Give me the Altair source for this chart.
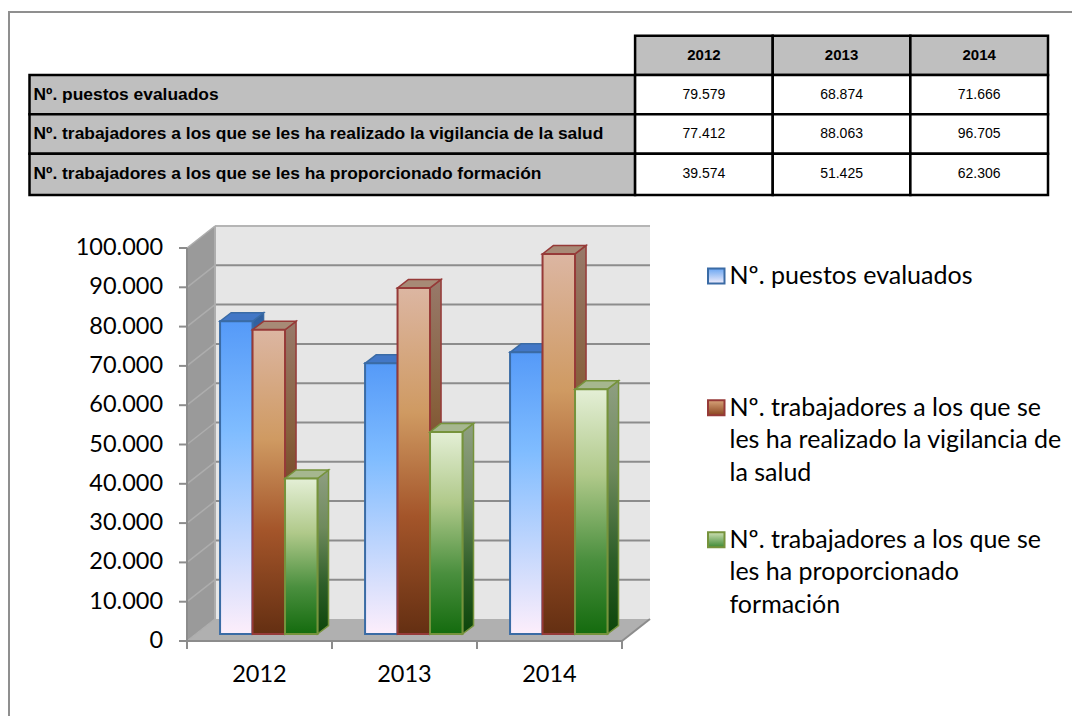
import altair as alt
import pandas as pd

years = ["2012", "2013", "2014"]
series = [
    "Nº. puestos evaluados",
    "Nº. trabajadores a los que se les ha realizado la vigilancia de la salud",
    "Nº. trabajadores a los que se les ha proporcionado formación",
]
puestos = [79579, 68874, 71666]
vigilancia = [77412, 88063, 96705]
formacion = [39574, 51425, 62306]
values = [puestos, vigilancia, formacion]
cell_text = [["79.579", "68.874", "71.666"], ["77.412", "88.063", "96.705"], ["39.574", "51.425", "62.306"]]
ticks = list(range(0, 100001, 10000))
tick_labels = ["0", "10.000", "20.000", "30.000", "40.000", "50.000", "60.000", "70.000", "80.000", "90.000", "100.000"]

legend_lines = [
    ("Nº. puestos evaluados", 0.0),
    ("Nº. trabajadores a los que se", 4.03),
    ("les ha realizado la vigilancia de", 5.03),
    ("la salud", 6.03),
    ("Nº. trabajadores a los que se", 8.07),
    ("les ha proporcionado", 9.07),
    ("formación", 10.07),
]
legend_marks = [0.0, 4.03, 8.07]

W, H = 1064, 708


def grad(*stops):
    return {
        "gradient": "linear", "x1": 0, "y1": 0, "x2": 0, "y2": 1,
        "stops": [{"offset": o, "color": c} for o, c in stops],
    }


front = [
    grad((0, "#559af8"), (0.35, "#7fbcff"), (1, "#fdeefb")),
    grad((0, "#dcb6a2"), (0.36, "#cf9a62"), (0.66, "#a4552a"), (1, "#642f12")),
    grad((0, "#e4efd6"), (0.35, "#b0c98a"), (0.7, "#4a8f3e"), (1, "#146b0e")),
]
side = [
    grad((0, "#2f5f9e"), (1, "#8a9dbd")),
    grad((0, "#98796a"), (0.36, "#87603c"), (0.66, "#6d3a1c"), (1, "#43200c")),
    grad((0, "#8f9f82"), (0.35, "#6f8a5c"), (0.7, "#2e5e28"), (1, "#0c450a")),
]
top_fill = ["#4277c6", "#a78a76", "#a6b78f"]
edge = ["#3a6ba5", "#963a38", "#76933c"]
legend_fill = [
    grad((0, "#6aa6f2"), (1, "#f2eefb")),
    grad((0, "#d8a47a"), (1, "#8a4520")),
    grad((0, "#cfe0b4"), (1, "#3f8a35")),
]

# ---- 3D chart: units are category widths on x and counts on y
x_sc = alt.Scale(domain=[0, 3], range=[179, 614], nice=False, zero=False)
y_sc = alt.Scale(domain=[0, 100000], range=[633, 240], nice=False, zero=False)
wall_dx, wall_dy = 0.193, 5600
base_v = 1780
bar_w, bar_start = 0.224, 0.228
bar_dx, bar_dy = 0.076, 2160
tick_dx, tick_dy = 0.055, 2035


def X(f="x"):
    return alt.X(f"{f}:Q", scale=x_sc, axis=None, title=None)


def Y(f="y"):
    return alt.Y(f"{f}:Q", scale=y_sc, axis=None, title=None)


def vertical_area(df, **mark):
    return alt.Chart(df).mark_area(orient="vertical", **mark).encode(
        x=X(), y=Y(), y2=alt.Y2("y2:Q"), detail="id:N")


def horizontal_area(df, **mark):
    return alt.Chart(df).mark_area(orient="horizontal", **mark).encode(
        y=Y(), x=X(), x2=alt.X2("x2:Q"), detail="id:N")


wall = alt.Chart(pd.DataFrame([{"x": wall_dx, "x2": 3 + wall_dx, "y": wall_dy, "y2": 100000 + wall_dy}])).mark_rect(
    fill="#e6e6e6").encode(x=X(), x2="x2:Q", y=Y(), y2="y2:Q")
left_wall = vertical_area(pd.DataFrame([
    {"id": 0, "x": 0, "y": 0, "y2": 100000},
    {"id": 0, "x": wall_dx, "y": wall_dy, "y2": 100000 + wall_dy},
]), fill="#9a9a9a")
floor = horizontal_area(pd.DataFrame([
    {"id": 0, "y": 0, "x": 0, "x2": 3},
    {"id": 0, "y": wall_dy, "x": wall_dx, "x2": 3 + wall_dx},
]), fill="#b0b0b0")

grid = alt.Chart(pd.DataFrame([
    {"x": wall_dx, "x2": 3 + wall_dx, "y": t + wall_dy} for t in ticks[1:]
])).mark_rule(color="#8c8c8c", strokeWidth=2).encode(x=X(), x2="x2:Q", y=Y())
wall_top = alt.Chart(pd.DataFrame([
    {"x": wall_dx, "x2": 3 + wall_dx, "y": 100000 + wall_dy}
])).mark_rule(color="#b5b5b5", strokeWidth=2).encode(x=X(), x2="x2:Q", y=Y())
wall_edge = alt.Chart(pd.DataFrame([
    {"x": wall_dx, "y": 0 + wall_dy, "y2": 100000 + wall_dy}
])).mark_rule(color="#adadad", strokeWidth=2).encode(x=X(), y=Y(), y2="y2:Q")

diag_rows = []
for t in ticks:
    diag_rows.append({"id": t, "x": 0, "y": t})
    diag_rows.append({"id": t, "x": wall_dx, "y": t + wall_dy})
diagonals = alt.Chart(pd.DataFrame(diag_rows)).mark_line(color="#adadad", strokeWidth=1.5).encode(
    x=X(), y=Y(), detail="id:N")

floor_edge = alt.Chart(pd.DataFrame([
    {"x": 3, "y": 0}, {"x": 3 + wall_dx, "y": wall_dy}
])).mark_line(color="#8c8c8c", strokeWidth=2).encode(x=X(), y=Y())

# hand-built axes, because a native axis did not render inside an independently scaled layer
axis_color = "#8c8c8c"
y_domain = alt.Chart(pd.DataFrame([{"x": 0, "y": 0, "y2": 100000}])).mark_rule(
    color=axis_color, strokeWidth=2).encode(x=X(), y=Y(), y2="y2:Q")
x_domain = alt.Chart(pd.DataFrame([{"x": 0, "x2": 3, "y": 0}])).mark_rule(
    color=axis_color, strokeWidth=2).encode(x=X(), x2="x2:Q", y=Y())
y_ticks = alt.Chart(pd.DataFrame({"x": [-tick_dx] * len(ticks), "x2": [0] * len(ticks), "y": ticks})).mark_rule(
    color=axis_color, strokeWidth=2).encode(x=X(), x2="x2:Q", y=Y())
x_ticks = alt.Chart(pd.DataFrame({"x": [0, 1, 2, 3], "y": [-tick_dy] * 4, "y2": [0] * 4})).mark_rule(
    color=axis_color, strokeWidth=2).encode(x=X(), y=Y(), y2="y2:Q")
y_labels = alt.Chart(pd.DataFrame({"x": [-tick_dx] * len(ticks), "y": ticks, "t": tick_labels})).mark_text(
    font="Lato", fontSize=23.5, color="#000000", align="right", dx=-16).encode(x=X(), y=Y(), text="t:N")
year_labels = alt.Chart(pd.DataFrame({"x": [0.5, 1.5, 2.5], "y": [0, 0, 0], "t": years})).mark_text(
    font="Lato", fontSize=23.5, color="#000000", dy=34).encode(x=X(), y=Y(), text="t:N")

chart_layers = [wall, left_wall, floor, grid, wall_top, wall_edge, diagonals, floor_edge,
                y_domain, x_domain, y_ticks, x_ticks, y_labels, year_labels]

for s, vals in enumerate(values):
    sides, tops, fronts = [], [], []
    for i, v in enumerate(vals):
        xl = i + bar_start + s * bar_w
        xr = xl + bar_w
        top = v + base_v
        sides += [
            {"id": i, "x": xr, "y": base_v, "y2": top},
            {"id": i, "x": xr + bar_dx, "y": base_v + bar_dy, "y2": top + bar_dy},
        ]
        tops += [
            {"id": i, "y": top, "x": xl, "x2": xr},
            {"id": i, "y": top + bar_dy, "x": xl + bar_dx, "x2": xr + bar_dx},
        ]
        fronts.append({"x": xl, "x2": xr, "y": base_v, "y2": top})
    chart_layers.append(vertical_area(pd.DataFrame(sides), fill=side[s], stroke=edge[s], strokeWidth=1.5))
    chart_layers.append(horizontal_area(pd.DataFrame(tops), fill=top_fill[s], stroke=edge[s], strokeWidth=1.5))
    chart_layers.append(alt.Chart(pd.DataFrame(fronts)).mark_rect(fill=front[s], stroke=edge[s], strokeWidth=2).encode(
        x=X(), x2="x2:Q", y=Y(), y2="y2:Q"))
chart3d = alt.layer(*chart_layers)

# ---- table: x in value-column widths (label column to the left of 0), y in rows
tx = alt.Scale(domain=[-4.4, 3], range=[21.5, 1040], nice=False, zero=False)
ty = alt.Scale(domain=[0, 4], range=[27.7, 185], nice=False, zero=False)
row_edges = [0, 1, 2, 3, 4.05]

cells = []
for c in range(3):
    cells.append({"x": c, "x2": c + 1, "y": 0, "y2": 1, "fill": "#bfbfbf"})
for r in range(3):
    cells.append({"x": -4.4, "x2": 0, "y": row_edges[r + 1], "y2": row_edges[r + 2], "fill": "#bfbfbf"})
    for c in range(3):
        cells.append({"x": c, "x2": c + 1, "y": row_edges[r + 1], "y2": row_edges[r + 2], "fill": "#ffffff"})
table_rect = alt.Chart(pd.DataFrame(cells)).mark_rect(stroke="#000000", strokeWidth=2.5).encode(
    x=alt.X("x:Q", scale=tx, axis=None), x2="x2:Q",
    y=alt.Y("y:Q", scale=ty, axis=None), y2="y2:Q",
    fill=alt.Fill("fill:N", scale=None),
)

head = alt.Chart(pd.DataFrame({"x": [0.5, 1.5, 2.5], "y": [0.5] * 3, "t": years})).mark_text(
    font="Liberation Sans", fontWeight="bold", fontSize=15, color="#000000").encode(
    x=alt.X("x:Q", scale=tx, axis=None), y=alt.Y("y:Q", scale=ty, axis=None), text="t:N")
row_labels = alt.Chart(pd.DataFrame({"x": [-4.4] * 3, "y": [1.5, 2.5, 3.52], "t": series})).mark_text(
    font="Liberation Sans", fontWeight="bold", fontSize=17.4, color="#000000", align="left", dx=4).encode(
    x=alt.X("x:Q", scale=tx, axis=None), y=alt.Y("y:Q", scale=ty, axis=None), text="t:N")
cell_rows = []
for r in range(3):
    for c in range(3):
        cell_rows.append({"x": c + 0.5, "y": [1.5, 2.5, 3.52][r], "t": cell_text[r][c]})
cell_labels = alt.Chart(pd.DataFrame(cell_rows)).mark_text(
    font="Liberation Sans", fontSize=14, color="#000000").encode(
    x=alt.X("x:Q", scale=tx, axis=None), y=alt.Y("y:Q", scale=ty, axis=None), text="t:N")
table = alt.layer(table_rect, head, row_labels, cell_labels)

# ---- legend: x in swatch widths, y in text lines
lx = alt.Scale(domain=[0, 1], range=[700, 716.5], nice=False, zero=False)
ly = alt.Scale(domain=[0, 10.07], range=[268, 597], nice=False, zero=False)
legend_layers = []
for s, pos in enumerate(legend_marks):
    legend_layers.append(
        alt.Chart(pd.DataFrame([{"x": 0, "x2": 1, "c": pos}])).mark_rect(
            fill=legend_fill[s], stroke=edge[s], strokeWidth=2, height=15).encode(
            x=alt.X("x:Q", scale=lx, axis=None), x2="x2:Q", y=alt.Y("c:Q", scale=ly, axis=None))
    )
legend_layers.append(
    alt.Chart(pd.DataFrame([{"x": 1, "y": p, "t": t} for t, p in legend_lines])).mark_text(
        font="Lato", fontSize=25, color="#000000", align="left", dx=5).encode(
        x=alt.X("x:Q", scale=lx, axis=None), y=alt.Y("y:Q", scale=ly, axis=None), text="t:N")
)
legend = alt.layer(*legend_layers)

# ---- frame
frame_top = alt.Chart(pd.DataFrame({"a": [0]})).mark_rule(color="#8f8f8f", strokeWidth=2).encode(
    x=alt.value(0), x2=alt.value(W), y=alt.value(4))
frame_left = alt.Chart(pd.DataFrame({"a": [0]})).mark_rule(color="#8f8f8f", strokeWidth=2).encode(
    x=alt.value(1), y=alt.value(4), y2=alt.value(H))

chart = alt.layer(frame_top, frame_left, table, chart3d, legend).resolve_scale(
    x="independent", y="independent"
).properties(
    width=W, height=H, padding=0, background="#ffffff",
    autosize=alt.AutoSizeParams(type="none"),
).configure_view(stroke=None)

chart.save("out.html", embed_options={"renderer": "svg", "actions": False})
